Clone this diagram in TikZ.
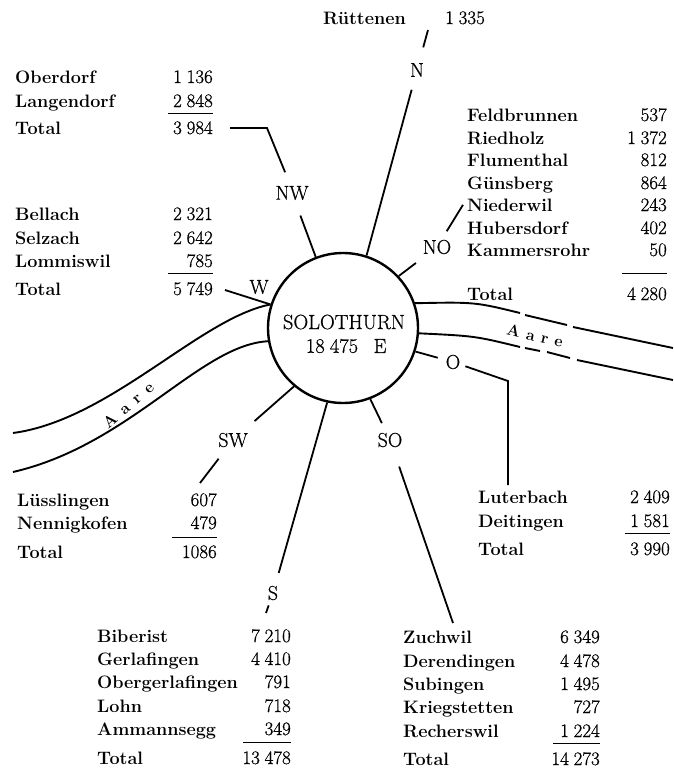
\documentclass[tikz,border=0pt]{standalone}
\usepackage{fontspec}
\newfontfamily\heavyrm{Latin Modern Roman}[FakeBold=0.7]
\newcommand\ts{\hspace{0.25em}}
\newcommand\trow[6]{%
  \node[nm] (#6a) at (#1,#3) {#4};
  \node[nu] (#6b) at (#2,#3) {#5};}
\begin{document}
\begin{tikzpicture}[x=1pt,y=-1pt,
  nm/.style={anchor=base west, inner sep=0pt, font=\fontsize{18}{20}\selectfont\bfseries},
  nu/.style={anchor=base east, inner sep=0pt, font=\heavyrm\fontsize{19}{21}\selectfont},
  dir/.style={inner sep=5pt, font=\heavyrm\fontsize{20}{22}\selectfont},
  mid/.style={inner sep=0pt, font=\heavyrm\fontsize{20.5}{23}\selectfont},
  con/.style={line width=1.8pt},
  rl/.style={line width=0.7pt},
  river/.style={line width=1.9pt},
  aare/.style={inner sep=0pt, font=\fontsize{16}{18}\selectfont\bfseries}]
\useasboundingbox (0,0) rectangle (673,769);

% ---------- centre ----------
\node[circle, draw, line width=2.4pt, minimum size=150pt, inner sep=0pt] (sol) at (343,328) {};
\node[mid] (solt) at (344,322) {SOLOTHURN};
\node[mid] (soln) at (332,346) {18\ts475};
\node[mid] (E) at (380,346) {E};

% ---------- compass labels ----------
\node[dir] (N) at (417,70) {N};
\node[dir] (NW) at (292,193) {NW};
\node[dir] (W) at (259,287) {W};
\node[dir] (NO) at (437,247) {NO};
\node[dir] (O) at (453,362) {O};
\node[dir] (SO) at (390,440) {SO};
\node[dir] (S) at (273,593) {S};
\node[dir] (SW) at (233,440) {SW};

% ---------- tables ----------
\node[nm] (ruta) at (323,24) {Rüttenen};
\node[nu, anchor=base west] (rutb) at (445,24) {1\ts335};

\trow{15}{213}{83}{Oberdorf}{1\ts136}{ob}
\trow{15}{213}{107}{Langendorf}{2\ts848}{la}
\trow{15}{213}{134}{Total}{3\ts984}{tnw}
\draw[rl] (168,113) -- (213,113);

\trow{15}{213}{220}{Bellach}{2\ts321}{be}
\trow{15}{213}{244}{Selzach}{2\ts642}{se}
\trow{15}{213}{267}{Lommiswil}{785}{lo}
\trow{15}{213}{295}{Total}{5\ts749}{tw}
\draw[rl] (168,273) -- (213,273);

\trow{467}{667}{121}{Feldbrunnen}{537}{fe}
\trow{467}{667}{144}{Riedholz}{1\ts372}{ri}
\trow{467}{667}{166}{Flumenthal}{812}{fl}
\trow{467}{667}{189}{Günsberg}{864}{gu}
\trow{467}{667}{211}{Niederwil}{243}{ni}
\trow{467}{667}{234}{Hubersdorf}{402}{hu}
\trow{467}{667}{256}{Kammersrohr}{50}{ka}
\trow{467}{667}{300}{Total}{4\ts280}{tno}
\draw[rl] (622,273) -- (667,273);

\trow{478}{670}{503}{Luterbach}{2\ts409}{lu}
\trow{478}{670}{527}{Deitingen}{1\ts581}{de}
\trow{478}{670}{555}{Total}{3\ts990}{to}
\draw[rl] (625,533) -- (670,533);

\trow{17}{217}{506}{Lüsslingen}{607}{lus}
\trow{17}{217}{529}{Nennigkofen}{479}{ne}
\trow{17}{217}{558}{Total}{1086}{tsw}
\draw[rl] (172,537) -- (217,537);

\trow{97}{291}{642}{Biberist}{7\ts210}{bi}
\trow{97}{291}{665}{Gerlafingen}{4\ts410}{ge}
\trow{97}{291}{688}{Obergerlafingen}{791}{obg}
\trow{97}{291}{712}{Lohn}{718}{loh}
\trow{97}{291}{735}{Ammannsegg}{349}{am}
\trow{97}{291}{764}{Total}{13\ts478}{ts}
\draw[rl] (243,742) -- (291,742);

\trow{403}{600}{643}{Zuchwil}{6\ts349}{zu}
\trow{403}{600}{667}{Derendingen}{4\ts478}{der}
\trow{403}{600}{690}{Subingen}{1\ts495}{su}
\trow{403}{600}{713}{Kriegstetten}{727}{kr}
\trow{403}{600}{737}{Recherswil}{1\ts224}{re}
\trow{403}{600}{765}{Total}{14\ts273}{tso}
\draw[rl] (553,743) -- (600,743);

% ---------- connectors ----------
\coordinate (nTop) at (428,30);
\coordinate (nwA) at (285,172);
\coordinate (nwB) at (267,128);
\coordinate (nwC) at (230,128);
\coordinate (wEnd) at (225,290);
\coordinate (oA) at (508,381);
\coordinate (oEnd) at (508,485);
\coordinate (soEnd) at (453,623);
\coordinate (sEnd) at (266,613);
\coordinate (swEnd) at (200,483);

\draw[con, shorten >=8pt] (sol.72) -- (N);
\draw[con, shorten <=11pt] (N) -- (nTop);
\draw[con, shorten >=11pt] (sol.111) -- (NW);
\draw[con, shorten <=9pt] (NW) -- (nwA) -- (nwB) -- (nwC);
\draw[con] (sol.162) -- (wEnd);
\draw[con, shorten >=6pt] (sol.43) -- (NO);
\draw[con, shorten <=4pt] (NO) -- ([xshift=-4pt]nia.west);
\draw[con, shorten >=3pt] (sol.342) -- (O);
\draw[con] (O) -- (oA) -- (oEnd);
\draw[con, shorten >=5pt] (sol.291) -- (SO);
\draw[con, shorten <=15pt] (SO) -- (soEnd);
\draw[con, shorten >=8pt] (sol.258) -- (S);
\draw[con] (S) -- (sEnd);
\draw[con, shorten >=10pt] (sol.230) -- (SW);
\draw[con, shorten <=8pt] (SW) -- (swEnd);

% ---------- river Aare ----------
\draw[river] (sol.162) .. controls (200,318) and (110,420) .. (13,433);
\draw[river] (sol.190) .. controls (200,345) and (130,445) .. (13,472);
\node[aare, rotate=41] (aareW) at (128,405) {A\hspace{.5em}a\hspace{.5em}r\hspace{.5em}e};

\draw[river] (sol.19) .. controls (475,302) .. (520,313);
\draw[river] (525,315) -- (567,325);
\draw[river] (573,327) -- (673,348);
\draw[river] (sol.356) .. controls (475,336) .. (520,347);
\draw[river] (525,348) -- (540,351);
\draw[river] (547,352) -- (570,358);
\draw[river] (577,360) -- (673,380);
\node[aare, rotate=-13] (aareE) at (535,336) {A\hspace{.4em}a\hspace{.4em}r\hspace{.4em}e};
\end{tikzpicture}
\end{document}
